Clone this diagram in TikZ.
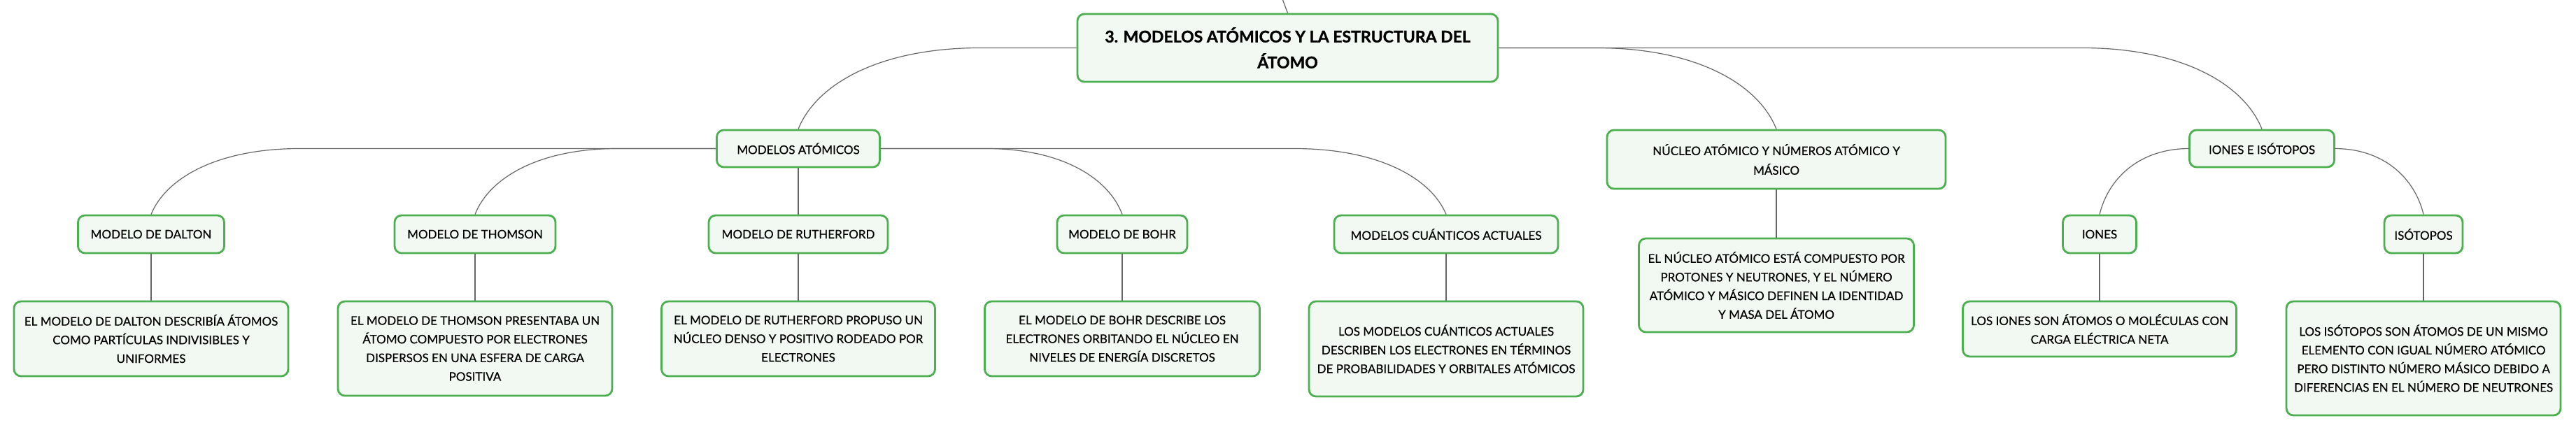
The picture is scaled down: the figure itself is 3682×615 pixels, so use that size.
\documentclass[tikz,border=0pt]{standalone}
\usepackage{fontspec}
\setmainfont{Lato}[FakeBold=0.5, BoldFeatures={FakeBold=1.2}]
\usetikzlibrary{calc}

\definecolor{boxgreen}{HTML}{4CAF50}
\definecolor{boxfill}{HTML}{F2F9F2}
\definecolor{linkgray}{HTML}{666666}

\begin{document}
\begin{tikzpicture}[x=1pt,y=-1pt,
		topic/.style={draw=boxgreen, fill=boxfill, line width=2.8pt, rounded corners=10pt,
			align=center, inner sep=0pt, font=\fontsize{17}{26.7}\selectfont},
		link/.style={draw=linkgray, line width=1.2pt},
		branch/.style 2 args={to path={-- ($(\tikztotarget |- \tikztostart)+(#1,0)$)
			.. controls ($(\tikztotarget |- \tikztostart)+({0.45*(#1)},0)$)
			and ($(\tikztotarget)+({0.1*(#1)},{-0.55*(#2)})$) .. (\tikztotarget)}}]
				\useasboundingbox (0,0) rectangle (3682,615);
				\node[topic, font=\bfseries\fontsize{23}{37}\selectfont, minimum width=601, minimum height=97] (root) at (1840.5,68.5) {3. MODELOS ATÓMICOS Y LA ESTRUCTURA DEL\\ÁTOMO};
				\coordinate (up) at (1832,-4);
				\node[topic, minimum width=233, minimum height=53] (atomicos) at (1141,212.5) {MODELOS ATÓMICOS};
				\node[topic, font=\fontsize{17}{28}\selectfont, minimum width=484, minimum height=84] (nucleo) at (2539,228) {NÚCLEO ATÓMICO Y NÚMEROS ATÓMICO Y\\MÁSICO};
				\node[topic, minimum width=207, minimum height=53] (ionesiso) at (3233,212.5) {IONES E ISÓTOPOS};
				\node[topic, minimum width=209, minimum height=54] (dalton) at (216,335) {MODELO DE DALTON};
				\node[topic, minimum width=230, minimum height=54] (thomson) at (679,335) {MODELO DE THOMSON};
				\node[topic, minimum width=256, minimum height=54] (rutherford) at (1141,335) {MODELO DE RUTHERFORD};
				\node[topic, minimum width=186, minimum height=54] (bohr) at (1604,335) {MODELO DE BOHR};
				\node[topic, minimum width=320, minimum height=54] (cuanticos) at (2067,335) {MODELOS CUÁNTICOS ACTUALES};
				\node[topic, minimum width=105, minimum height=54] (iones) at (3001,335) {IONES};
				\node[topic, minimum width=112, minimum height=54] (isotopos) at (3464,335) {ISÓTOPOS};
				\node[topic, minimum width=392, minimum height=107] (daltontext) at (216,484.5) {EL MODELO DE DALTON DESCRIBÍA ÁTOMOS\\COMO PARTÍCULAS INDIVISIBLES Y\\UNIFORMES};
				\node[topic, minimum width=392, minimum height=135] (thomsontext) at (679,498.5) {EL MODELO DE THOMSON PRESENTABA UN\\ÁTOMO COMPUESTO POR ELECTRONES\\DISPERSOS EN UNA ESFERA DE CARGA\\POSITIVA};
				\node[topic, minimum width=391, minimum height=107] (rutherfordtext) at (1141,484.5) {EL MODELO DE RUTHERFORD PROPUSO UN\\NÚCLEO DENSO Y POSITIVO RODEADO POR\\ELECTRONES};
				\node[topic, minimum width=393, minimum height=107] (bohrtext) at (1604,484.5) {EL MODELO DE BOHR DESCRIBE LOS\\ELECTRONES ORBITANDO EL NÚCLEO EN\\NIVELES DE ENERGÍA DISCRETOS};
				\node[topic, minimum width=392, minimum height=136] (cuanticostext) at (2067,499) {LOS MODELOS CUÁNTICOS ACTUALES\\DESCRIBEN LOS ELECTRONES EN TÉRMINOS\\DE PROBABILIDADES Y ORBITALES ATÓMICOS};
				\node[topic, minimum width=393, minimum height=134] (nucleotext) at (2539,408) {EL NÚCLEO ATÓMICO ESTÁ COMPUESTO POR\\PROTONES Y NEUTRONES, Y EL NÚMERO\\ATÓMICO Y MÁSICO DEFINEN LA IDENTIDAD\\Y MASA DEL ÁTOMO};
				\node[topic, minimum width=391, minimum height=79] (ionestext) at (3001,470.5) {LOS IONES SON ÁTOMOS O MOLÉCULAS CON\\CARGA ELÉCTRICA NETA};
				\node[topic, minimum width=392, minimum height=163] (isotopostext) at (3464,512.5) {LOS ISÓTOPOS SON ÁTOMOS DE UN MISMO\\ELEMENTO CON IGUAL NÚMERO ATÓMICO\\PERO DISTINTO NÚMERO MÁSICO DEBIDO A\\DIFERENCIAS EN EL NÚMERO DE NEUTRONES};
				\draw[link] (root.north) -- (up);
				\draw[link] (root.west) to[branch={260}{118}] (atomicos.north);
				\draw[link] (root.east) to[branch={-257}{118}] (nucleo.north);
				\draw[link] (root.east) to[branch={-257}{118}] (ionesiso.north);
				\draw[link] (atomicos.west) to[branch={212}{95}] (dalton.north);
				\draw[link] (atomicos.west) to[branch={203}{95}] (thomson.north);
				\draw[link] (atomicos.south) -- (rutherford.north);
				\draw[link] (atomicos.east) to[branch={-194}{95}] (bohr.north);
				\draw[link] (atomicos.east) to[branch={-217}{95}] (cuanticos.north);
				\draw[link] (ionesiso.west) to[branch={128}{95}] (iones.north);
				\draw[link] (ionesiso.east) to[branch={-127}{95}] (isotopos.north);
				\draw[link] (dalton.south) -- (daltontext.north);
				\draw[link] (thomson.south) -- (thomsontext.north);
				\draw[link] (rutherford.south) -- (rutherfordtext.north);
				\draw[link] (bohr.south) -- (bohrtext.north);
				\draw[link] (cuanticos.south) -- (cuanticostext.north);
				\draw[link] (nucleo.south) -- (nucleotext.north);
				\draw[link] (iones.south) -- (ionestext.north);
				\draw[link] (isotopos.south) -- (isotopostext.north);
			\end{tikzpicture}
\end{document}
